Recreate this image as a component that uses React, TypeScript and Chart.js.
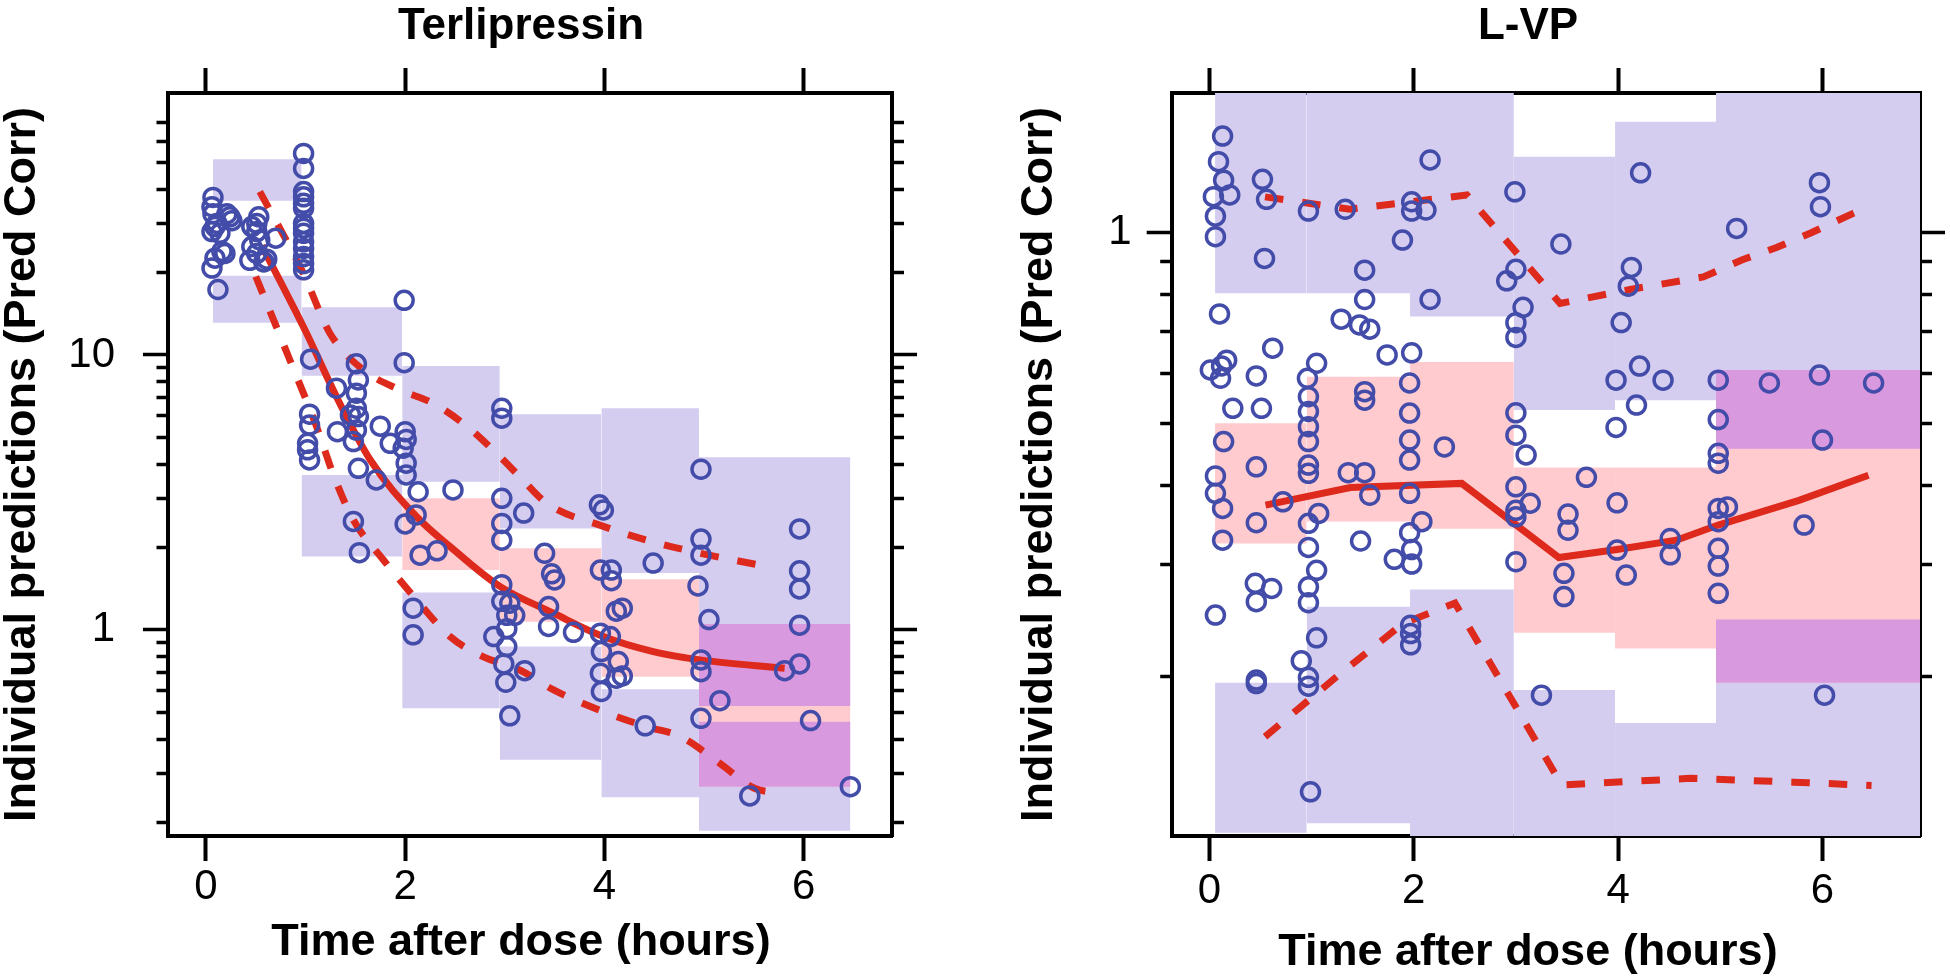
import React, { useEffect, useRef } from "react";
import { Chart, registerables } from "chart.js";

Chart.register(...registerables);

const FONT = "'Liberation Sans', Arial, Helvetica, sans-serif";
const BLUE = "#434DA9";
const LAVENDER = "#D4CDF0";
const PINK = "#FFCBCF";
const PURPLE = "#D999DE";
const RED = "#DD2A1C";

// ---------------- Terlipressin ----------------
const terliTime = [
  0.07, 0.06, 0.07, 0.21, 0.26, 0.11, 0.06, 0.14, 0.09, 0.16, 0.09, 0.06, 0.12, 0.19, 0.24,
  0.53, 0.51, 0.46, 0.51, 0.54, 0.46, 0.44, 0.51, 0.58, 0.61, 0.70,
  0.98, 0.98, 0.98, 0.98, 0.98, 0.98, 0.98, 0.98, 0.98, 0.98, 0.98, 0.98, 0.98, 0.98,
  1.99, 1.99, 1.05, 1.51, 1.53, 1.51, 1.31, 1.51, 1.45, 1.53, 1.04, 1.04, 1.75, 1.32, 1.51, 1.85, 2.0, 2.01, 1.98, 1.02, 1.02, 2.97, 2.97, 1.48,
  1.04, 1.53, 1.71, 2.01, 2.01, 2.13, 2.48, 2.97, 3.19, 2.97, 2.97, 1.48, 1.54, 2.0, 2.11, 2.15, 2.32, 3.4, 2.08, 2.08,
  2.97, 2.97, 3.05, 3.02, 3.1, 3.02, 2.89, 3.02, 2.99, 3.01, 3.2, 3.05, 3.44, 3.44, 3.47, 3.5,
  4.97, 3.95, 3.99, 3.96, 4.07, 4.07, 4.49, 4.97, 4.97, 4.94, 5.05, 5.96, 5.96, 5.96, 5.96, 5.96, 5.81, 6.07, 6.47, 5.46, 5.16, 4.97, 4.97, 4.97, 4.41,
  3.96, 4.06, 3.97, 4.14, 3.96, 4.12, 4.18, 3.97, 3.69, 4.12, 4.18,
];
const terliPred = [
  37.4, 34.6, 32.6, 32.6, 30.8, 30.1, 28.1, 27.7, 29.3, 23.8, 22.5, 20.7, 17.3, 23.4, 31.8,
  31.8, 30.1, 29.3, 28.1, 26.2, 24.8, 22.1, 23.4, 21.8, 22.3, 26.6,
  54.1, 47.7, 39.3, 37.6, 35.6, 34.2, 30.1, 27.7, 25.8, 24.4, 22.8, 21.5, 20.4, 28.9,
  15.8, 9.37, 9.65, 9.29, 8.11, 7.26, 7.57, 6.4, 6.05, 5.97, 6.09, 5.56, 5.51, 5.26, 5.33, 4.77, 5.26, 4.93, 4.58, 4.77, 4.52, 6.4, 5.89, 4.84,
  4.15, 3.87, 3.51, 4.04, 3.66, 3.18, 3.23, 3.01, 2.66, 2.44, 2.12, 2.48, 1.91, 2.43, 2.62, 1.87, 1.94, 1.9, 1.2, 0.96,
  1.46, 1.27, 1.25, 1.13, 1.13, 1.01, 0.946, 0.87, 0.752, 0.645, 0.711, 0.487, 1.216, 1.03, 1.6, 1.52,
  3.84, 2.85, 2.73, 1.65, 1.65, 1.51, 1.75, 2.14, 1.87, 1.445, 1.09, 2.33, 1.64, 1.41, 1.04, 0.752, 0.711, 0.468, 0.269, 0.249, 0.553, 0.477, 0.778, 0.705, 0.448,
  0.973, 0.946, 0.834, 0.767, 0.696, 0.667, 0.68, 0.597, 0.98, 1.17, 1.2,
];
const terliBinStart = [0.07, 0.96, 1.97, 2.95, 3.97, 4.95];
const terliBinEnd = [0.96, 1.97, 2.95, 3.97, 4.95, 6.47];
const terliUpperLo = [36.4, 8.41, 3.46, 2.34, 1.61, 0.529];
const terliUpperHi = [51.5, 14.9, 9.12, 6.09, 6.4, 4.25];
const terliMedLo = [null, null, 1.65, 1.07, 0.676, 0.269];
const terliMedHi = [null, null, 3.01, 1.98, 1.53, 1.05];
const terliLowerLo = [13.1, 1.85, 0.519, 0.337, 0.246, 0.186];
const terliLowerHi = [19.4, 3.66, 1.367, 0.87, 0.609, 0.463];
const terliMedT = [0.56, 1.0, 1.31, 1.65, 2.115, 2.45, 2.95, 3.49, 3.99, 4.49, 4.96, 5.81];
const terliMedV = [25.0, 12.2, 7.05, 4.15, 2.58, 2.01, 1.44, 1.15, 0.946, 0.834, 0.778, 0.726];
const terliP95T = [0.54, 0.977, 1.244, 1.58, 1.95, 2.28, 2.62, 2.95, 3.15, 3.42, 3.99, 4.49, 4.96, 5.56];
const terliP95V = [39.3, 19.8, 12.0, 8.82, 7.46, 6.67, 5.5, 4.27, 3.61, 2.89, 2.38, 2.09, 1.9, 1.72];
const terliP5T = [0.5, 0.843, 1.11, 1.28, 1.48, 1.78, 2.115, 2.45, 2.78, 3.15, 3.49, 3.99, 4.42, 4.76, 5.16, 5.5, 5.73];
const terliP5V = [19.3, 9.57, 5.49, 3.66, 2.51, 1.8, 1.285, 0.946, 0.8, 0.715, 0.605, 0.504, 0.445, 0.41, 0.327, 0.266, 0.255];
const terliYTicks = [0.2, 0.3, 0.4, 0.5, 0.6, 0.7, 0.8, 0.9, 1, 2, 3, 4, 5, 6, 7, 8, 9, 10, 20, 30, 40, 50, 60, 70];
const terliYLabelValues = [1, 10];
const terliYLabels = ["1", "10"];

// ---------------- L-VP ----------------
const lvpTime = [
  0.13, 0.09, 0.14, 0.2, 0.04, 0.06, 0.06, 0.1, 0.17, 0.12, 0.01, 0.11, 0.23, 0.14,
  0.52, 0.56, 0.54, 0.62, 0.46, 0.51,
  0.97, 1.05, 0.96, 0.97, 0.97, 0.97, 0.97,
  1.33, 1.52, 1.52, 1.29, 1.47, 1.57, 1.74, 1.52, 1.52,
  2.16, 1.98, 1.98, 2.12, 1.89, 2.16, 1.98, 1.96, 1.96, 1.96, 2.3,
  2.99, 3.0, 2.91, 3.07, 3.0, 3.0, 3.0, 3.0, 3.1,
  3.44, 4.22, 4.13, 4.1, 4.03, 5.16, 5.97, 5.98, 3.98, 4.21, 4.44, 4.98, 5.48, 5.97, 6.5, 4.18, 3.98, 4.98, 6.0, 4.98,
  0.06, 0.06, 0.13, 0.13, 0.06, 0.46, 0.46, 0.72, 0.45, 0.61, 0.46, 0.46, 0.46,
  0.97, 0.97, 0.97, 1.07, 0.97, 1.05, 0.97, 0.97, 1.05, 0.9, 0.97, 0.97, 0.99,
  1.36, 1.52, 1.57, 1.48, 1.96, 1.96, 2.08, 1.96, 1.98, 1.98, 1.81, 1.97, 1.97, 1.97,
  3.0, 3.14, 3.0, 3.0, 3.0, 3.25,
  3.69, 3.51, 3.51, 3.47, 3.47, 3.99, 3.99, 4.08, 4.51, 4.51, 4.98, 4.98, 5.07, 4.98, 4.98, 4.98, 4.98, 5.82, 6.02,
];
const lvpPred = [
  1.42, 1.294, 1.21, 1.147, 1.14, 1.062, 0.986, 0.745, 0.63, 0.617, 0.608, 0.59, 0.529, 0.469,
  1.214, 1.129, 0.911, 0.658, 0.595, 0.529,
  1.082, 0.623, 0.59, 0.552, 0.523, 0.495, 0.469,
  1.089, 0.873, 0.785, 0.731, 0.716, 0.705, 0.642, 0.562, 0.545,
  1.302, 1.119, 1.082, 1.086, 0.974, 0.785, 0.647, 0.58, 0.52, 0.4716, 0.46,
  1.16, 0.876, 0.84, 0.763, 0.7217, 0.6843, 0.5205, 0.48, 0.4467,
  0.96, 1.243, 0.882, 0.824, 0.722, 1.016, 1.199, 1.099, 0.586, 0.6167, 0.586, 0.586, 0.58, 0.597, 0.58, 0.5354, 0.4937, 0.508, 0.4716, 0.4494,
  0.414, 0.3887, 0.368, 0.328, 0.25, 0.428, 0.3494, 0.377, 0.2805, 0.2754, 0.2624, 0.1975, 0.195,
  0.4306, 0.418, 0.3487, 0.3614, 0.3195, 0.294, 0.277, 0.2615, 0.2302, 0.2118, 0.1995, 0.1932, 0.1317,
  0.419, 0.419, 0.386, 0.327, 0.4385, 0.3887, 0.3507, 0.337, 0.317, 0.3008, 0.306, 0.241, 0.2338, 0.2244,
  0.398, 0.375, 0.3655, 0.357, 0.3033, 0.187,
  0.412, 0.3605, 0.34, 0.2908, 0.2673, 0.3756, 0.3164, 0.289, 0.33, 0.311, 0.4335, 0.368, 0.37, 0.3507, 0.3184, 0.2986, 0.2705, 0.3465, 0.187,
];
const lvpBinStart = [0.056, 0.953, 1.964, 2.98, 3.97, 4.958];
const lvpBinEnd = [0.953, 1.964, 2.98, 3.97, 4.958, 7.3];
const lvpUpperLo = [0.803, 0.803, 0.738, 0.526, 0.545, 0.457];
const lvpUpperHi = [2.0, 2.0, 2.0, 1.317, 1.496, 2.0];
const lvpMedLo = [0.324, 0.351, 0.342, 0.2344, 0.2215, 0.1956];
const lvpMedHi = [0.501, 0.593, 0.626, 0.427, 0.427, 0.608];
const lvpLowerLo = [0.1135, 0.1175, 0.1, 0.1, 0.1, 0.1];
const lvpLowerHi = [0.1956, 0.2576, 0.2744, 0.1905, 0.169, 0.246];
const lvpMedT = [0.55, 1.38, 2.47, 3.42, 3.99, 4.57, 4.98, 5.77, 6.45];
const lvpMedV = [0.3725, 0.397, 0.403, 0.308, 0.317, 0.328, 0.3465, 0.379, 0.415];
const lvpP95T = [0.545, 1.377, 2.52, 3.432, 4.117, 4.834, 5.21, 5.55, 5.89, 6.3, 6.45];
const lvpP95V = [1.139, 1.089, 1.147, 0.774, 0.814, 0.852, 0.906, 0.948, 1.0, 1.073, 1.1];
const lvpP5T = [0.545, 1.247, 1.898, 2.404, 3.448, 4.703, 5.714, 6.48];
const lvpP5V = [0.1608, 0.2, 0.2426, 0.261, 0.135, 0.1383, 0.1364, 0.1348];
const lvpYTicks = [0.2, 0.3, 0.4, 0.5, 0.6, 0.7, 0.8, 0.9, 1];
const lvpYLabelValues = [1];
const lvpYLabels = ["1"];

const xTicks = [0, 2, 4, 6];
const xTickLabels = ["0", "2", "4", "6"];
const xTitleText = "Time after dose (hours)";
const yTitleText = "Individual predictions (Pred Corr)";

type Panel = {
  title: string;
  time: number[];
  pred: number[];
  binStart: number[];
  binEnd: number[];
  upperLo: (number | null)[];
  upperHi: (number | null)[];
  medLo: (number | null)[];
  medHi: (number | null)[];
  lowerLo: (number | null)[];
  lowerHi: (number | null)[];
  medT: number[];
  medV: number[];
  p95T: number[];
  p95V: number[];
  p5T: number[];
  p5V: number[];
  yTicks: number[];
  yLabelValues: number[];
  yLabels: string[];
  smooth: boolean;
  geom: {
    canvasLeft: number;
    canvasWidth: number;
    plotLeft: number;
    plotRight: number;
    xMin: number;
    xMax: number;
    yMin: number;
    yMax: number;
    xTickPad: number;
    yTickPad: number;
    xTitlePad: number;
    yTitlePad: number;
  };
};

const H = 980;
const PLOT_TOP = 93;
const PLOT_BOTTOM = 836;
const TITLE_SIZE = 44;
const TITLE_PAD_TOP = 0;
const TITLE_PAD_BOTTOM = 10;
const XTITLE_SIZE = 45;
const YTITLE_SIZE = 45;
const TICK_SIZE = 42;

function pts(t: number[], v: number[]) {
  return t.map((x, i) => ({ x, y: v[i] }));
}

function bandSets(start: number[], end: number[], lo: any[], hi: any[], color: string, order: number) {
  const out: any[] = [];
  for (let i = 0; i < start.length; i++) {
    if (lo[i] == null || hi[i] == null) continue;
    out.push({
      type: "line",
      data: [
        { x: start[i], y: hi[i] },
        { x: end[i], y: hi[i] },
      ],
      fill: { value: lo[i] },
      backgroundColor: color,
      borderColor: "rgba(0,0,0,0)",
      borderWidth: 0,
      pointRadius: 0,
      showLine: true,
      order,
    });
  }
  return out;
}

function overlapSets(start: number[], end: number[], lo1: any[], hi1: any[], lo2: any[], hi2: any[], color: string, order: number) {
  const lo: (number | null)[] = [];
  const hi: (number | null)[] = [];
  for (let i = 0; i < start.length; i++) {
    if (lo1[i] == null || lo2[i] == null) {
      lo.push(null);
      hi.push(null);
      continue;
    }
    const a = Math.max(lo1[i], lo2[i]);
    const b = Math.min(hi1[i], hi2[i]);
    if (b > a) {
      lo.push(a);
      hi.push(b);
    } else {
      lo.push(null);
      hi.push(null);
    }
  }
  return bandSets(start, end, lo, hi, color, order);
}

function buildConfig(p: Panel): any {
  const g = p.geom;
  const lineBase = {
    type: "line",
    borderColor: RED,
    borderWidth: 7,
    pointRadius: 0,
    fill: false,
    cubicInterpolationMode: p.smooth ? "monotone" : "default",
    tension: 0,
    order: 1,
  };
  const datasets: any[] = [
    {
      type: "scatter",
      data: pts(p.time, p.pred),
      pointStyle: "circle",
      pointRadius: 9,
      borderWidth: 3.5,
      borderColor: BLUE,
      backgroundColor: "rgba(0,0,0,0)",
      order: 0,
    },
    { ...lineBase, data: pts(p.medT, p.medV) },
    { ...lineBase, data: pts(p.p95T, p.p95V), borderDash: [18.5, 19] },
    { ...lineBase, data: pts(p.p5T, p.p5V), borderDash: [18.5, 19] },
    ...overlapSets(p.binStart, p.binEnd, p.upperLo, p.upperHi, p.medLo, p.medHi, PURPLE, 2),
    ...overlapSets(p.binStart, p.binEnd, p.lowerLo, p.lowerHi, p.medLo, p.medHi, PURPLE, 2),
    ...bandSets(p.binStart, p.binEnd, p.medLo, p.medHi, PINK, 3),
    ...bandSets(p.binStart, p.binEnd, p.upperLo, p.upperHi, LAVENDER, 4),
    ...bandSets(p.binStart, p.binEnd, p.lowerLo, p.lowerHi, LAVENDER, 4),
  ];

  const titleBlock = TITLE_SIZE * 1.2 + TITLE_PAD_TOP + TITLE_PAD_BOTTOM;
  const xTitleBlock = XTITLE_SIZE * 1.2 + g.xTitlePad;
  const isMajor = (v: number) => p.yLabelValues.indexOf(v) >= 0;
  const tickFont = { family: FONT, size: TICK_SIZE };
  const tickLen = 25;
  const minorLen = 10;

  const xBase = (position: string) => ({
    type: "linear",
    position,
    min: g.xMin,
    max: g.xMax,
    bounds: "data",
    afterBuildTicks: (s: any) => {
      s.ticks = xTicks.map((v) => ({ value: v }));
    },
    grid: {
      display: true,
      drawOnChartArea: false,
      drawTicks: true,
      tickLength: tickLen,
      tickWidth: 4,
      tickColor: "#000",
    },
    border: { display: true, color: "#000", width: 4 },
  });

  const yBase = (position: string) => ({
    type: "logarithmic",
    position,
    min: g.yMin,
    max: g.yMax,
    bounds: "data",
    afterBuildTicks: (s: any) => {
      s.ticks = p.yTicks.map((v) => ({ value: v }));
    },
    grid: {
      display: true,
      drawOnChartArea: false,
      drawTicks: true,
      tickLength: tickLen,
      tickWidth: 3.5,
      tickColor: "#000",
      tickBorderDash: (ctx: any) => {
        const v = ctx.tick ? ctx.tick.value : 0;
        if (isMajor(v)) return [];
        return position === "left" ? [0, tickLen - 1.5 - minorLen, minorLen, 0] : [minorLen, 100];
      },
    },
    border: { display: true, color: "#000", width: 4 },
  });

  return {
    type: "scatter",
    data: { datasets },
    options: {
      responsive: false,
      animation: false,
      events: [],
      layout: { padding: 0 },
      plugins: {
        legend: { display: false },
        tooltip: { enabled: false },
        title: {
          display: true,
          text: p.title,
          color: "#000",
          font: { family: FONT, size: TITLE_SIZE, weight: "bold" },
          padding: { top: TITLE_PAD_TOP, bottom: TITLE_PAD_BOTTOM },
        },
        subtitle: {
          display: true,
          position: "bottom",
          text: xTitleText,
          color: "#000",
          font: { family: FONT, size: XTITLE_SIZE, weight: "bold" },
          padding: { top: 0, bottom: g.xTitlePad },
        },
      },
      scales: {
        x: {
          ...xBase("bottom"),
          afterFit: (s: any) => {
            s.height = H - PLOT_BOTTOM - xTitleBlock;
          },
          ticks: {
            autoSkip: false,
            maxRotation: 0,
            minRotation: 0,
            padding: g.xTickPad,
            color: "#000",
            font: tickFont,
            callback: (v: any) => {
              const i = xTicks.indexOf(Number(v));
              return i >= 0 ? xTickLabels[i] : "";
            },
          },
        },
        x2: {
          ...xBase("top"),
          afterFit: (s: any) => {
            s.height = PLOT_TOP - titleBlock;
          },
          ticks: { display: false },
        },
        y: {
          ...yBase("left"),
          afterFit: (s: any) => {
            s.width = g.plotLeft;
          },
          ticks: {
            autoSkip: false,
            padding: g.yTickPad,
            color: "#000",
            font: tickFont,
            callback: (v: any) => {
              const i = p.yLabelValues.indexOf(Number(v));
              return i >= 0 ? p.yLabels[i] : "";
            },
          },
          title: {
            display: true,
            text: yTitleText,
            color: "#000",
            font: { family: FONT, size: YTITLE_SIZE, weight: "bold", lineHeight: 1 },
            padding: { top: g.yTitlePad, bottom: 0 },
          },
        },
        y2: {
          ...yBase("right"),
          afterFit: (s: any) => {
            s.width = g.canvasWidth - g.plotRight;
          },
          ticks: { display: false },
        },
      },
    },
  };
}

const panels: Panel[] = [
  {
    title: "Terlipressin",
    time: terliTime,
    pred: terliPred,
    binStart: terliBinStart,
    binEnd: terliBinEnd,
    upperLo: terliUpperLo,
    upperHi: terliUpperHi,
    medLo: terliMedLo,
    medHi: terliMedHi,
    lowerLo: terliLowerLo,
    lowerHi: terliLowerHi,
    medT: terliMedT,
    medV: terliMedV,
    p95T: terliP95T,
    p95V: terliP95V,
    p5T: terliP5T,
    p5V: terliP5V,
    yTicks: terliYTicks,
    yLabelValues: terliYLabelValues,
    yLabels: terliYLabels,
    smooth: true,
    geom: {
      canvasLeft: 0,
      canvasWidth: 1042,
      plotLeft: 168,
      plotRight: 892,
      xMin: -0.3815,
      xMax: 6.888,
      yMin: 0.178,
      yMax: 89.7,
      xTickPad: 1,
      yTickPad: 28,
      xTitlePad: 10,
      yTitlePad: 0,
    },
  },
  {
    title: "L-VP",
    time: lvpTime,
    pred: lvpPred,
    binStart: lvpBinStart,
    binEnd: lvpBinEnd,
    upperLo: lvpUpperLo,
    upperHi: lvpUpperHi,
    medLo: lvpMedLo,
    medHi: lvpMedHi,
    lowerLo: lvpLowerLo,
    lowerHi: lvpLowerHi,
    medT: lvpMedT,
    medV: lvpMedV,
    p95T: lvpP95T,
    p95V: lvpP95V,
    p5T: lvpP5T,
    p5V: lvpP5V,
    yTicks: lvpYTicks,
    yLabelValues: lvpYLabelValues,
    yLabels: lvpYLabels,
    smooth: false,
    geom: {
      canvasLeft: 1000,
      canvasWidth: 1056,
      plotLeft: 171.7,
      plotRight: 920,
      xMin: -0.368,
      xMax: 6.954,
      yMin: 0.1122,
      yMax: 1.66,
      xTickPad: 5,
      yTickPad: 15,
      xTitlePad: 0,
      yTitlePad: 16.8,
    },
  },
];

function PanelChart({ panel }: { panel: Panel }) {
  const ref = useRef<HTMLCanvasElement>(null);
  useEffect(() => {
    if (!ref.current) return;
    const chart = new Chart(ref.current, buildConfig(panel));
    return () => chart.destroy();
  }, [panel]);
  const g = panel.geom;
  return (
    <canvas
      ref={ref}
      width={g.canvasWidth}
      height={H}
      style={{ position: "absolute", left: g.canvasLeft, top: 0, width: g.canvasWidth, height: H }}
    />
  );
}

export default function App() {
  return (
    <div
      style={{
        position: "fixed",
        left: 0,
        top: 0,
        width: 1950,
        height: 980,
        overflow: "hidden",
        background: "#fff",
      }}
    >
      {panels.map((p) => (
        <PanelChart key={p.title} panel={p} />
      ))}
    </div>
  );
}
